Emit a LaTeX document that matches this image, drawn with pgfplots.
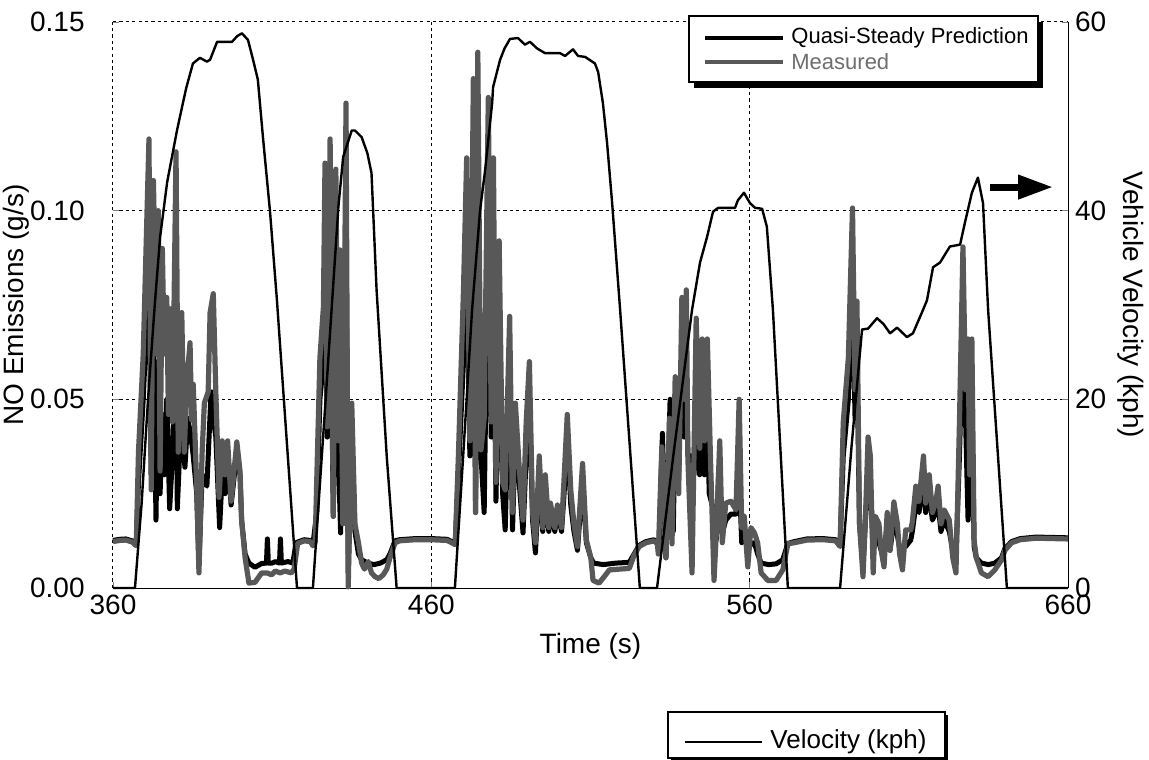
\documentclass[border=0pt]{standalone}
\usepackage{pgfplots}
\pgfplotsset{compat=1.18}
\usepackage{fontspec}
\setmainfont{Liberation Sans}
\usetikzlibrary{arrows.meta}
\definecolor{meas}{RGB}{88,88,88}
\definecolor{meastxt}{RGB}{110,110,110}
\begin{document}
\begin{tikzpicture}
\useasboundingbox (-56.5pt,-85.5pt) rectangle (518pt,294pt);
\begin{axis}[
  at={(0,0)}, anchor=south west, scale only axis,
  width=477.5pt, height=283pt,
  xmin=360, xmax=660, ymin=0, ymax=0.15,
  xtick={360,460,560,660}, ytick={0,0.05,0.1,0.15},
  axis x line*=bottom, axis y line*=left,
  x axis line style={-, line width=0.5pt},
  y axis line style={draw=none},
  grid=major,
  major grid style={black, line width=0.5pt, dash pattern=on 1.6pt off 1.6pt},
  tick align=inside, major tick length=3pt,
  scaled y ticks=false,
  /pgf/number format/assume math mode=true,
  tick label style={font=\fontsize{14}{14}\selectfont},
  yticklabel style={/pgf/number format/fixed, /pgf/number format/fixed zerofill, /pgf/number format/precision=2, inner xsep=0pt},
  yticklabel shift=14pt,
  xlabel={Time (s)}, ylabel={NO Emissions (g/s)},
  every axis y label/.style={at={(axis description cs:-0.1016,0.5)}, rotate=90, anchor=center, font=\fontsize{14}{14}\selectfont},
  every axis x label/.style={at={(axis description cs:0.5,-0.1025)}, anchor=center, font=\fontsize{14}{14}\selectfont},
  clip=false,
]
% Quasi-steady prediction
\addplot[black, line width=2.5pt, line join=round] table {
360 0.0126
362 0.0129
364 0.0130
366 0.0125
367.3 0.0115
368 0.028
369.5 0.050
371.3 0.085
372 0.030
372.7 0.070
373.5 0.018
374.2 0.060
374.8 0.025
375.5 0.046
376.1 0.030
376.9 0.050
377.8 0.021
378.7 0.035
379.8 0.070
380.2 0.021
381.3 0.043
382.6 0.032
383.5 0.045
384.5 0.040
385.2 0.035
386.3 0.025
387 0.006
388 0.030
389.5 0.027
390.8 0.052
391.5 0.045
392.3 0.040
393.5 0.016
394.3 0.030
395.2 0.025
396 0.035
397.1 0.022
398.9 0.036
399.9 0.030
400.4 0.018
401.5 0.009
402.7 0.0066
404.6 0.0055
406.7 0.0065
408.2 0.0066
408.5 0.013
408.8 0.0066
410 0.0066
411 0.0070
412.3 0.0066
412.6 0.013
412.9 0.0066
415 0.0070
416.5 0.0066
417.5 0.0120
420 0.0128
422 0.0126
422.8 0.0115
424 0.020
425 0.050
426.1 0.060
426.6 0.090
427.3 0.040
428.2 0.090
429.2 0.019
430 0.080
430.8 0.035
431.5 0.0146
432.2 0.050
433.2 0.100
433.9 0.004
435 0.040
436 0.015
437.1 0.009
438.1 0.0075
440 0.0066
442 0.0062
444 0.0066
446 0.0075
447 0.0090
448.6 0.0125
450 0.0128
455 0.0131
460 0.0131
465 0.0129
467.5 0.0118
468.5 0.030
470.1 0.060
471.1 0.090
472.1 0.035
473.2 0.100
473.9 0.020
474.6 0.110
475.6 0.035
476.6 0.020
477.9 0.100
478.8 0.040
479.5 0.080
480.3 0.023
481.3 0.070
482.4 0.025
483.2 0.0154
484.6 0.060
485.5 0.0154
486.4 0.040
487.6 0.028
488.8 0.0146
489.8 0.035
490.8 0.050
491.8 0.018
492.7 0.0093
493.9 0.030
495 0.015
495.8 0.025
496.9 0.015
497.4 0.020
498.8 0.015
499.6 0.020
500.9 0.015
501.7 0.025
502.7 0.040
503.8 0.022
504.8 0.015
505.9 0.010
507.5 0.028
508.7 0.012
510.1 0.008
511 0.0066
514 0.0062
518 0.0066
522.2 0.0068
523.7 0.0090
525.3 0.0113
527.4 0.0123
530 0.0128
531 0.0118
531.5 0.010
532.6 0.041
533.7 0.008
535 0.050
536 0.015
536.6 0.045
537.7 0.030
538.5 0.060
539.4 0.040
540.1 0.055
540.6 0.035
541.9 0.035
542.5 0.030
543.2 0.050
544.3 0.030
545.1 0.045
545.8 0.030
546.7 0.045
547.3 0.025
548.8 0.020
549.6 0.013
550.3 0.032
551.4 0.0146
552.5 0.018
554.1 0.0196
555.7 0.0196
556.7 0.030
557.5 0.012
558.3 0.015
559.4 0.010
560.4 0.0117
561.5 0.012
562.5 0.009
563.6 0.0066
566 0.0062
568.3 0.0064
570.4 0.0075
572 0.0118
574 0.0123
578 0.0130
583 0.0131
587 0.0128
588.4 0.0115
589.4 0.035
591 0.050
592.3 0.080
593.1 0.045
593.7 0.060
594.5 0.017
595.6 0.006
596.3 0.017
597.2 0.030
597.9 0.028
598.8 0.010
599.5 0.015
600.6 0.012
601.3 0.010
602.2 0.010
603.2 0.016
604.1 0.010
605.3 0.018
606.4 0.014
607.1 0.0105
608 0.0105
609 0.011
610.6 0.0127
611.1 0.015
612.2 0.022
613.2 0.020
614.6 0.028
615.3 0.020
616.4 0.025
617.4 0.018
618.5 0.020
619.2 0.022
620.1 0.015
621.1 0.018
622.7 0.015
623.8 0.010
624.8 0.008
625.9 0.035
627 0.070
627.8 0.045
628.6 0.018
629.1 0.025
629.8 0.050
630.5 0.011
631.2 0.008
632.8 0.0066
635 0.0062
637 0.0066
639.1 0.0080
640.2 0.0105
642.3 0.0123
645 0.0131
650 0.0135
655 0.0134
660 0.0133
};
% Measured
\addplot[meas, line width=2.6pt, line join=round] table {
360 0.0123
362 0.0126
364 0.0127
366 0.0122
367.3 0.0112
368 0.036
369.5 0.062
371.3 0.119
372 0.026
372.7 0.108
373.7 0.062
374.2 0.100
374.8 0.031
375.5 0.090
376.1 0.062
376.9 0.077
377.4 0.046
378.2 0.074
378.7 0.044
379.8 0.1156
380.5 0.036
381.6 0.073
382.4 0.036
383.2 0.055
384.2 0.065
384.7 0.0445
385.2 0.054
386.3 0.027
387 0.004
388 0.036
388.7 0.049
389.9 0.052
390.5 0.073
391.5 0.078
392.3 0.052
393.3 0.024
394.3 0.039
395.2 0.030
396 0.039
397.1 0.023
398.9 0.0387
399.9 0.031
400.4 0.018
401.5 0.008
402.7 0.0013
404.6 0.0015
406.7 0.004
408.4 0.004
409.8 0.0035
411 0.0045
412.5 0.004
414 0.0045
416 0.004
416.9 0.005
418 0.0118
420 0.0125
422 0.0123
422.8 0.0112
423.5 0.012
425 0.061
426.1 0.0745
426.6 0.1126
427.3 0.0427
428.2 0.119
429.2 0.019
430 0.111
430.8 0.039
431.3 0.0896
432.2 0.017
433.2 0.1285
433.9 0.0003
435 0.049
436 0.017
437.1 0.012
438.1 0.0066
439 0.005
440.2 0.007
441.2 0.004
442.3 0.003
443.5 0.0025
444.9 0.0035
446 0.005
447 0.008
448.6 0.012
450 0.0125
455 0.0128
460 0.0128
465 0.0126
467.5 0.0115
468.5 0.035
470.1 0.079
471.1 0.114
472.1 0.039
473.2 0.135
473.9 0.020
474.6 0.142
475.6 0.0366
476.6 0.045
477.9 0.130
478.8 0.044
479.5 0.114
480.3 0.028
481.3 0.092
482.4 0.028
483.2 0.026
484.6 0.072
485.5 0.020
486.4 0.049
487.6 0.032
488.8 0.018
489.8 0.044
490.8 0.060
491.8 0.020
492.7 0.012
493.9 0.035
495 0.016
495.8 0.030
496.9 0.016
497.4 0.0225
498.8 0.016
499.6 0.022
500.9 0.016
501.7 0.029
502.7 0.046
503.8 0.026
504.8 0.017
505.9 0.011
507.5 0.033
508.7 0.0127
510.1 0.008
510.8 0.002
512.7 0.0013
514.3 0.003
515.9 0.0048
519 0.005
522.2 0.0052
523.7 0.0087
525.3 0.011
527.4 0.012
530 0.0125
531 0.0117
531.3 0.009
532.4 0.0374
532.9 0.030
533.7 0.008
534.8 0.045
535.6 0.0117
536.6 0.056
537.7 0.025
538.7 0.077
539.4 0.050
540.1 0.079
540.6 0.034
541.9 0.004
543.2 0.0715
544.3 0.037
545.1 0.066
545.8 0.039
546.7 0.066
547.7 0.034
548.8 0.002
549.6 0.016
550.6 0.039
551.4 0.012
552.5 0.0225
554.1 0.023
555.7 0.0207
556.7 0.050
557.5 0.016
558.3 0.019
559.4 0.0056
560.4 0.016
561.5 0.0146
562.5 0.012
563.6 0.004
565.7 0.002
568.3 0.002
570.4 0.0048
572 0.0117
574 0.012
578 0.0127
583 0.0128
587 0.0125
588.4 0.011
589.4 0.044
591 0.061
592.3 0.1007
593.1 0.0525
593.7 0.076
594.5 0.017
595.6 0.003
596.3 0.017
597.2 0.040
597.9 0.035
598.8 0.004
599.5 0.019
600.6 0.017
601.3 0.010
602.2 0.0056
603.2 0.020
604.1 0.010
605.3 0.0228
606.4 0.017
607.1 0.009
608 0.0048
609 0.0154
610.6 0.0154
611.1 0.0175
612.2 0.027
613.2 0.023
614.6 0.035
615.3 0.0225
616.4 0.030
617.4 0.020
618.5 0.023
619.2 0.027
620.1 0.017
621.1 0.0207
622.7 0.018
623.8 0.008
624.8 0.004
625.9 0.044
627 0.0904
627.8 0.0525
628.6 0.066
629.1 0.030
629.8 0.066
630.5 0.0127
631.2 0.008
632.8 0.004
634.9 0.003
637 0.0048
639.1 0.0074
640.2 0.010
642.3 0.012
645 0.0128
650 0.0132
655 0.0131
660 0.0130
};
\end{axis}
\begin{axis}[
  at={(0,0)}, anchor=south west, scale only axis,
  width=477.5pt, height=283pt,
  xmin=360, xmax=660, ymin=0, ymax=60,
  axis x line=none, axis y line*=right,
  y axis line style={-, line width=0.5pt},
  ytick={0,20,40,60},
  tick align=inside, major tick length=3pt,
  /pgf/number format/assume math mode=true,
  tick label style={font=\fontsize{14}{14}\selectfont},
  ylabel={Vehicle Velocity (kph)},
  every axis y label/.style={at={(axis description cs:1.066,0.5)}, rotate=-90, anchor=center, font=\fontsize{14}{14}\selectfont},
  clip=false,
]
\addplot[black, line width=1.2pt, line join=round] table {
360 0
366.9 0
369 9
371 20
373.2 30.4
374.8 37.2
377 43
380.1 48.5
381.7 51
383 53
385.1 55.6
387.3 56.2
389.5 55.8
390.5 56
392.7 57.9
397.4 57.9
399 58.5
400.5 58.8
402.4 58.1
404 56
405.5 53.9
407.1 47.8
409.3 40
411.5 30.5
417.8 0
422.8 0
426.8 20
430.8 40.4
432.3 45.7
435 48.5
436 48.5
438.1 47.8
439.9 46.1
441.2 44
442.8 31.6
446 13.9
449.1 0
467.4 0
470 14
472.8 29.5
475.3 40
476.9 44.3
479.1 51.4
479.4 53.1
481.6 56
483 57.2
484.7 58.2
487.2 58.3
489.4 57.6
491 57.9
493.2 57.2
495.7 56.7
500.4 56.7
502 56.4
504.5 57.1
506.1 56.4
508.3 56.3
511.4 55.6
512.4 54.7
513.9 51.4
515.2 47.2
516.8 40.8
519.3 29.5
525.5 0
530.9 0
536 14
541.9 29.5
544.4 34.5
546.6 37.2
548.5 39.9
550.1 40.3
555.4 40.3
556.3 41.1
558.2 41.9
560.1 40.8
561.7 40.3
563.9 40.2
565.4 38.3
567.3 29.5
572 0
588.4 0
592 15
595.3 27.4
597.2 27.5
600 28.6
602 28
604.1 27
606.3 27.6
609.4 26.6
611.3 27
614.1 29.2
615.7 30.5
617.6 34
619.8 34.5
622.9 36.2
626.1 36.4
627.6 38.7
629.8 41.9
631.7 43.5
633.3 40.8
634.9 29.5
640.8 0
660 0
};
\draw[line width=3.5pt, -{Triangle[length=17.5pt, width=11.5pt]}] (axis cs:635.5,42.5) -- (axis cs:655.3,42.5);
\end{axis}
% legend 1
\fill[black] (290.5pt,250pt) rectangle (465pt,283pt);
\draw[fill=white, line width=1pt] (288pt,253pt) rectangle (462.5pt,286pt);
\draw[black, line width=2pt] (296pt,275pt) -- (335pt,275pt);
\node[anchor=west, inner sep=0pt, font=\fontsize{11}{11}\selectfont] at (339pt,275pt) {Quasi-Steady Prediction};
\draw[meas, line width=2pt] (296pt,263pt) -- (335pt,263pt);
\node[anchor=west, inner sep=0pt, text=meastxt, font=\fontsize{11}{11}\selectfont] at (339pt,263pt) {Measured};
% legend 2
\fill[black] (279pt,-86.5pt) rectangle (417.5pt,-63.5pt);
\draw[fill=white, line width=0.6pt] (277.5pt,-85pt) rectangle (416pt,-62pt);
\draw[black, line width=1.3pt] (286pt,-77pt) -- (324.5pt,-77pt);
\node[anchor=west, inner sep=0pt, font=\fontsize{13}{13}\selectfont] at (328.5pt,-77pt) {Velocity (kph)};
\end{tikzpicture}
\end{document}
